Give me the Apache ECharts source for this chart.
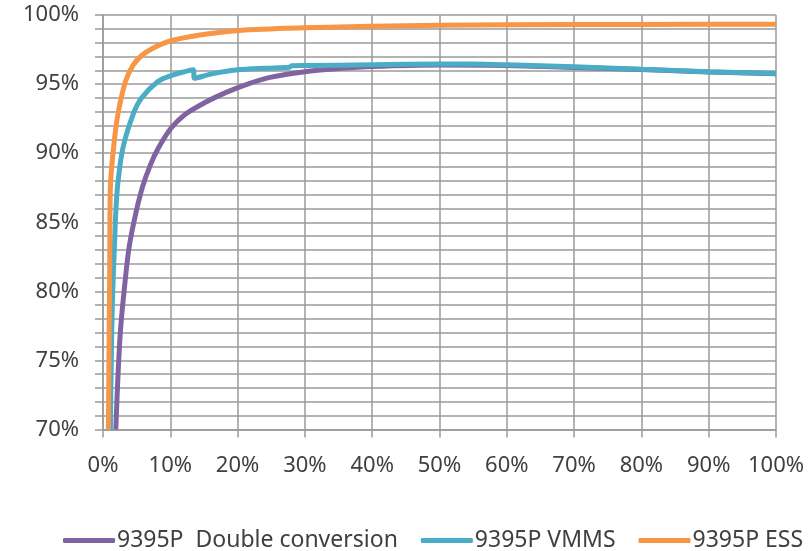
<!DOCTYPE html>
<html>
<head>
<meta charset="utf-8">
<script src="https://cdn.jsdelivr.net/npm/echarts@6/dist/echarts.min.js"></script>
<style>
  html, body { margin: 0; padding: 0; background: #fff; }
  #chart { width: 809px; height: 551px; }
</style>
</head>
<body>
<div id="chart"></div>
<script>
// 数据：[负载 %, 效率 %]
const seriesNames = ['9395P  Double conversion', '9395P VMMS', '9395P ESS'];
const seriesColors = ['#8064A2', '#4BACC6', '#F79646'];

const doubleConversion = [
  [1.9, 70], [2.2, 73.6], [2.6, 77.2], [3.3, 80.8], [3.9, 83.25], [4.9, 85.7],
  [5.9, 87.6], [7.0, 89.1], [8.15, 90.3], [10.1, 91.8], [12.1, 92.77], [15.3, 93.7],
  [18.3, 94.4], [21.8, 95.05], [25, 95.5], [30, 95.9], [35, 96.12], [40, 96.27],
  [50, 96.38], [60, 96.35], [70, 96.2], [80, 96.05], [90, 95.88], [100, 95.74]
];
const vmms = [
  [1.1, 70], [1.2, 74], [1.35, 78.4], [1.5, 80.8], [1.7, 83.25], [1.9, 85.7],
  [2.2, 87.8], [2.95, 90.36], [4.45, 92.77], [5.7, 93.97], [8.2, 95.2], [10, 95.6],
  [12, 95.88], [13.4, 96.03], [13.6, 95.42], [16, 95.72], [20, 96.03], [24, 96.15],
  [27.7, 96.22], [28, 96.32], [30, 96.34], [40, 96.4], [50, 96.45], [55, 96.45],
  [60, 96.4], [70, 96.25], [80, 96.07], [90, 95.9], [100, 95.76]
];
const ess = [
  [0.8, 70], [0.9, 76], [1.0, 82], [1.1, 87.6], [1.56, 90.36], [2.2, 92.77],
  [3.35, 95.2], [4.45, 96.35], [5.7, 97.05], [7.4, 97.6], [10, 98.12], [14.4, 98.55],
  [20.3, 98.88], [30, 99.07], [40, 99.18], [50, 99.25], [60, 99.3], [80, 99.32],
  [100, 99.33]
];
const seriesData = [doubleConversion, vmms, ess];

const chart = echarts.init(document.getElementById('chart'));
const gridColor = '#9a9a9a';
const textColor = '#404040';
const fontFamily = 'Noto Sans';

const option = {
  animation: false,
  backgroundColor: '#fff',
  grid: { left: 103, right: 33, top: 15, bottom: 121.5 },
  xAxis: {
    type: 'value',
    min: 0,
    max: 100,
    interval: 10,
    axisLine: { show: true, lineStyle: { color: gridColor, width: 1.5 } },
    axisTick: { show: true, length: 8, lineStyle: { color: gridColor, width: 1.5 } },
    splitLine: { show: true, lineStyle: { color: gridColor, width: 1.5 } },
    axisLabel: {
      margin: 25,
      color: textColor,
      fontSize: 22,
      fontFamily: fontFamily,
      formatter: v => v + '%'
    }
  },
  yAxis: {
    type: 'value',
    min: 70,
    max: 100,
    interval: 1,
    axisLine: { show: true, lineStyle: { color: gridColor, width: 1.5 } },
    axisTick: { show: true, length: 8, lineStyle: { color: gridColor, width: 1.5 } },
    splitLine: { show: true, lineStyle: { color: gridColor, width: 1.5 } },
    axisLabel: {
      margin: 24,
      color: textColor,
      fontSize: 22,
      fontFamily: fontFamily,
      formatter: v => (v % 5 === 0 ? v + '%' : '')
    }
  },
  legend: {
    left: 58,
    top: 524,
    icon: 'roundRect',
    itemWidth: 52,
    itemHeight: 5,
    itemGap: 23,
    textStyle: { color: textColor, fontSize: 23, fontFamily: fontFamily, padding: [0, 0, 0, -3] },
    data: seriesNames
  },
  series: seriesNames.map((name, i) => ({
    name: name,
    type: 'line',
    data: seriesData[i],
    smooth: 0.3,
    symbol: 'none',
    clip: true,
    lineStyle: { color: seriesColors[i], width: 5 },
    itemStyle: { color: seriesColors[i] }
  }))
};

chart.setOption(option);
</script>
</body>
</html>
